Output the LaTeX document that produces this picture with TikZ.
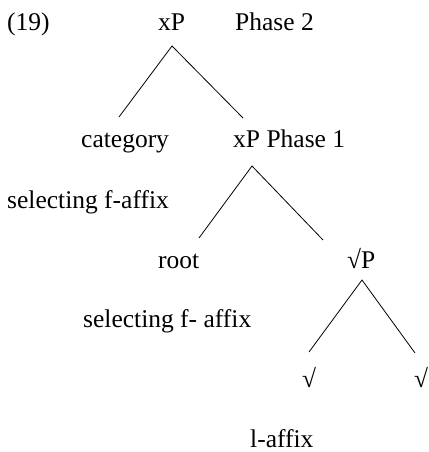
\documentclass[tikz,border=0pt]{standalone}
\usepackage{fontspec}
\setmainfont{Liberation Serif}
\begin{document}
\begin{tikzpicture}[x=1pt,y=-1pt,
  lbl/.style={anchor=base west,inner sep=0pt,font=\fontsize{25.5}{30}\selectfont},
  branch/.style={line width=0.8pt}]
\useasboundingbox (0,0) rectangle (428,452);
\node[lbl] (ex) at (7,31) {(19)};
\node[lbl] (xp2) at (158,31) {xP};
\node[lbl] (ph2) at (235,31) {Phase 2};
\node[lbl] (cat) at (81,147) {category};
\node[lbl] (xp1) at (233,147) {xP Phase 1};
\node[lbl] (sel1) at (7,208) {selecting f-affix};
\node[lbl] (root) at (158,268) {root};
\node[lbl] (rp) at (347,268) {√P};
\node[lbl] (sel2) at (83,327) {selecting f- affix};
\node[lbl] (r1) at (302,387) {√};
\node[lbl] (r2) at (414,387) {√};
\node[lbl] (laff) at (250,447) {l-affix};
\coordinate (a1) at (172,46);
\coordinate (a1l) at (119,117);
\coordinate (a1r) at (243,118);
\coordinate (a2) at (252,166);
\coordinate (a2l) at (199,238);
\coordinate (a2r) at (323,240);
\coordinate (a3) at (362,280);
\coordinate (a3l) at (309,352);
\coordinate (a3r) at (415,353);
\draw[branch] (a1l) -- (a1) -- (a1r);
\draw[branch] (a2l) -- (a2) -- (a2r);
\draw[branch] (a3l) -- (a3) -- (a3r);
\end{tikzpicture}
\end{document}
